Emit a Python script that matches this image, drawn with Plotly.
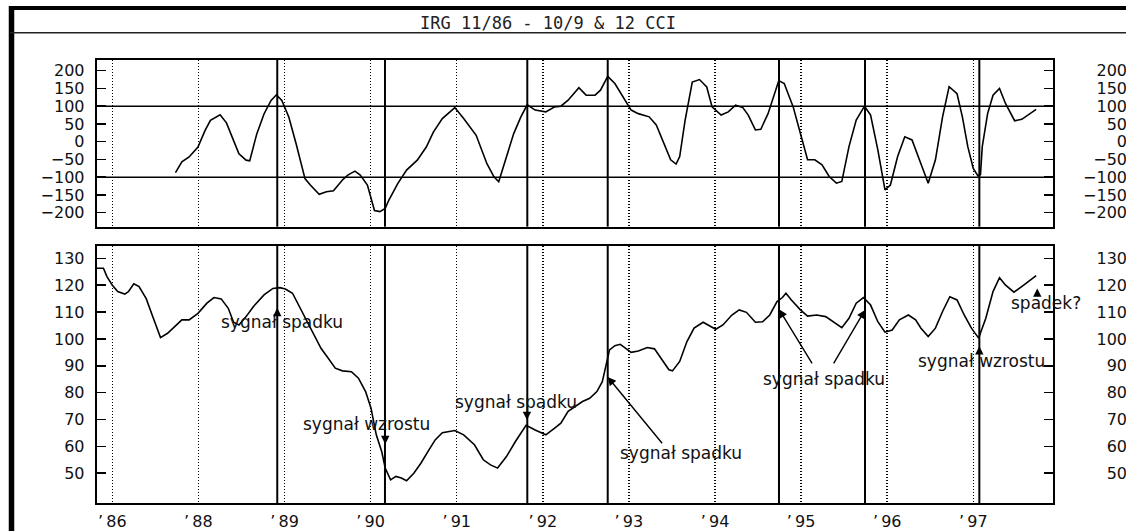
import plotly.graph_objects as go

# ---------------- data ----------------
title_text = "IRG 11/86 - 10/9 & 12 CCI"

tick_years = [1987, 1988, 1989, 1990, 1991, 1992, 1993, 1994, 1995, 1996, 1997]
tick_labels = ["\u2019\u200986", "\u2019\u200988", "\u2019\u200989", "\u2019\u200990", "\u2019\u200991",
               "\u2019\u200992", "\u2019\u200993", "\u2019\u200994", "\u2019\u200995", "\u2019\u200996",
               "\u2019\u200997"]

cci_ticks = [200, 150, 100, 50, 0, -50, -100, -150, -200]
cci_levels = [100, -100]
price_ticks = [130, 120, 110, 100, 90, 80, 70, 60, 50]

signal_years = [1988.916, 1990.167, 1991.82, 1992.754, 1994.743, 1995.742, 1997.07]

cci_x = [1987.734, 1987.808, 1987.892, 1987.995, 1988.078, 1988.140, 1988.252, 1988.326, 1988.409,
         1988.471, 1988.554, 1988.596, 1988.678, 1988.762, 1988.844, 1988.906, 1988.969, 1989.051,
         1989.135, 1989.238, 1989.300, 1989.403, 1989.487, 1989.569, 1989.673, 1989.735, 1989.818,
         1989.880, 1989.963, 1990.045, 1990.108, 1990.170, 1990.211, 1990.315, 1990.418, 1990.542,
         1990.647, 1990.729, 1990.833, 1990.978, 1991.081, 1991.226, 1991.351, 1991.433, 1991.488,
         1991.557, 1991.661, 1991.744, 1991.819, 1991.911, 1992.035, 1992.138, 1992.210, 1992.294,
         1992.419, 1992.503, 1992.607, 1992.670, 1992.754, 1992.837, 1992.942, 1993.026, 1993.109,
         1993.235, 1993.318, 1993.402, 1993.485, 1993.548, 1993.590, 1993.653, 1993.736, 1993.820,
         1993.904, 1993.966, 1994.071, 1994.154, 1994.239, 1994.323, 1994.386, 1994.469, 1994.532,
         1994.616, 1994.741, 1994.804, 1994.908, 1994.992, 1995.075, 1995.159, 1995.243, 1995.326,
         1995.410, 1995.473, 1995.556, 1995.640, 1995.736, 1995.807, 1995.891, 1995.974, 1996.037,
         1996.121, 1996.204, 1996.288, 1996.372, 1996.476, 1996.560, 1996.643, 1996.719, 1996.811,
         1996.873, 1996.936, 1996.999, 1997.053, 1997.083, 1997.104, 1997.166, 1997.229, 1997.304,
         1997.375, 1997.480, 1997.563, 1997.730]
cci_y = [-87, -57, -43, -15, 32, 60, 76, 53, 3,
         -34, -52, -54, 22, 78, 116, 132, 116, 69,
         -6, -104, -122, -148, -141, -138, -108, -94, -83,
         -94, -122, -194, -197, -188, -165, -118, -80, -52,
         -15, 27, 65, 96, 65, 18, -62, -99, -113,
         -57, 22, 69, 104, 89, 84, 98, 100, 117,
         152, 131, 131, 145, 184, 164, 121, 89, 79,
         70, 47, 0, -51, -63, -42, 61, 168, 175,
         154, 98, 75, 84, 103, 96, 75, 33, 35,
         79, 172, 164, 98, 23, -51, -51, -65, -98,
         -117, -112, -14, 61, 100, 75, -23, -136, -122,
         -42, 14, 5, -51, -117, -51, 70, 155, 135,
         70, -14, -75, -96, -93, -14, 79, 131, 150,
         107, 59, 63, 91]

price_x = [1986.822, 1986.897, 1986.938, 1987.001, 1987.063, 1987.145, 1987.187, 1987.250, 1987.311,
           1987.394, 1987.477, 1987.560, 1987.642, 1987.726, 1987.808, 1987.892, 1987.995, 1988.099,
           1988.181, 1988.265, 1988.347, 1988.409, 1988.471, 1988.554, 1988.638, 1988.762, 1988.865,
           1988.948, 1989.010, 1989.093, 1989.175, 1989.259, 1989.341, 1989.424, 1989.508, 1989.590,
           1989.673, 1989.777, 1989.859, 1989.942, 1990.005, 1990.066, 1990.129, 1990.170, 1990.232,
           1990.294, 1990.357, 1990.418, 1990.502, 1990.584, 1990.667, 1990.750, 1990.833, 1990.978,
           1991.081, 1991.206, 1991.309, 1991.393, 1991.475, 1991.578, 1991.682, 1991.806, 1991.911,
           1992.035, 1992.138, 1992.210, 1992.294, 1992.377, 1992.461, 1992.545, 1992.628, 1992.691,
           1992.733, 1992.775, 1992.837, 1992.900, 1992.963, 1993.026, 1993.109, 1993.214, 1993.297,
           1993.381, 1993.465, 1993.506, 1993.590, 1993.674, 1993.757, 1993.862, 1993.925, 1994.008,
           1994.092, 1994.196, 1994.281, 1994.365, 1994.469, 1994.553, 1994.636, 1994.720, 1994.783,
           1994.824, 1994.887, 1994.992, 1995.075, 1995.180, 1995.285, 1995.389, 1995.473, 1995.556,
           1995.640, 1995.724, 1995.807, 1995.891, 1995.974, 1996.058, 1996.141, 1996.246, 1996.330,
           1996.392, 1996.476, 1996.560, 1996.643, 1996.727, 1996.811, 1996.894, 1996.978, 1997.062,
           1997.145, 1997.229, 1997.304, 1997.375, 1997.472, 1997.585, 1997.730]
price_y = [126.3, 126.3, 123.2, 120.0, 117.6, 116.7, 117.6, 120.5, 119.5,
           115.0, 107.7, 100.5, 102.1, 104.6, 107.1, 107.1, 109.5, 113.3,
           115.4, 114.9, 111.4, 106.2, 105.2, 108.3, 112.0, 116.4, 118.8,
           119.1, 118.6, 117.0, 112.0, 106.4, 101.5, 96.5, 92.8, 89.1,
           88.1, 87.8, 85.4, 80.4, 74.2, 64.3, 58.1, 51.9, 47.5,
           48.8, 48.2, 47.2, 50.0, 53.7, 58.1, 62.4, 65.1, 65.9,
           64.3, 60.6, 55.0, 53.1, 51.9, 56.2, 61.8, 67.8, 66.1,
           64.3, 66.8, 68.6, 73.0, 74.8, 76.7, 77.9, 80.4, 84.1,
           90.3, 95.9, 97.5, 98.0, 96.5, 95.0, 95.5, 96.8, 96.3,
           92.2, 88.5, 88.1, 91.6, 99.0, 104.0, 106.2, 105.2, 103.6,
           105.2, 108.9, 110.8, 109.9, 106.2, 106.4, 108.9, 113.9, 115.4,
           117.0, 114.5, 110.8, 108.5, 108.9, 108.3, 106.2, 104.2, 107.7,
           113.3, 115.4, 112.6, 106.4, 102.5, 103.3, 107.1, 108.9, 107.1,
           104.0, 100.9, 104.0, 110.2, 115.7, 114.5, 108.9, 104.0, 100.3,
           107.7, 117.6, 122.8, 120.0, 117.4, 120.0, 123.6]

# text labels on the price panel: (text, x, y)
note_texts = ["sygna\u0142 spadku", "sygna\u0142 wzrostu", "sygna\u0142 spadku", "sygna\u0142 spadku",
              "sygna\u0142 spadku", "sygna\u0142 wzrostu", "spadek?"]
note_x = [1988.97, 1989.95, 1991.69, 1993.60, 1995.27, 1997.10, 1997.84]
note_y = [106.2, 68.2, 76.7, 57.5, 85.1, 91.6, 113.3]

# arrows: head (x, y) <- tail (x, y)
arrow_head_x = [1988.916, 1990.170, 1991.816, 1992.754, 1994.743, 1995.742, 1997.070, 1997.743]
arrow_head_y = [111.6, 60.8, 69.8, 85.8, 111.0, 110.8, 97.3, 118.8]
arrow_tail_x = [1988.916, 1990.170, 1991.816, 1993.400, 1995.138, 1995.368, 1997.070, 1997.743]
arrow_tail_y = [108.0, 64.5, 73.2, 60.6, 90.3, 90.3, 94.8, 115.3]

# ---------------- layout geometry ----------------
W, H = 1126, 531
x_range = [1986.819, 1997.922]
x_dom = [96.7 / W, 1052.7 / W]
top_dom = [1 - 226.7 / H, 1 - 60.0 / H]
bot_dom = [1 - 503.3 / H, 1 - 245.7 / H]
top_range = [-239.5, 230.1]
bot_range = [38.8, 134.7]

tick_font = dict(family="DejaVu Sans", size=16, color="#111111")
note_font = dict(family="DejaVu Sans", size=17, color="#111111")

fig = go.Figure()

fig.add_trace(go.Scatter(x=cci_x, y=cci_y, mode="lines", xaxis="x", yaxis="y",
                         line=dict(color="black", width=1.6), showlegend=False, hoverinfo="skip"))
fig.add_trace(go.Scatter(x=price_x, y=price_y, mode="lines", xaxis="x2", yaxis="y2",
                         line=dict(color="black", width=1.6), showlegend=False, hoverinfo="skip"))
# invisible traces so that the right-hand label axes are drawn
fig.add_trace(go.Scatter(x=[x_range[0]], y=[0], mode="markers", xaxis="x", yaxis="y3",
                         marker=dict(opacity=0), showlegend=False, hoverinfo="skip"))
fig.add_trace(go.Scatter(x=[x_range[0]], y=[100], mode="markers", xaxis="x2", yaxis="y4",
                         marker=dict(opacity=0), showlegend=False, hoverinfo="skip"))

xcommon = dict(range=x_range, domain=x_dom, tickmode="array", tickvals=tick_years,
               showgrid=True, gridcolor="black", gridwidth=1.5, griddash="1px,2px",
               zeroline=False, showline=True, linecolor="black", linewidth=2, mirror=True,
               ticks="", fixedrange=True)

fig.update_layout(
    width=W, height=H, autosize=False,
    margin=dict(l=0, r=0, t=0, b=0),
    paper_bgcolor="white", plot_bgcolor="white",
    xaxis=dict(**xcommon, anchor="y", showticklabels=False),
    xaxis2=dict(**xcommon, anchor="y2", ticktext=tick_labels, showticklabels=True,
                tickfont=tick_font, ticklabelstandoff=2),
    yaxis=dict(domain=top_dom, range=top_range, anchor="x", tickmode="array", tickvals=cci_ticks,
               ticks="inside", ticklen=9, tickwidth=1.5, tickcolor="black",
               showline=True, linecolor="black", linewidth=2, mirror="ticks",
               showgrid=False, zeroline=False, tickfont=tick_font, ticklabelstandoff=7),
    yaxis2=dict(domain=bot_dom, range=bot_range, anchor="x2", tickmode="array", tickvals=price_ticks,
                ticks="inside", ticklen=9, tickwidth=1.5, tickcolor="black",
                showline=True, linecolor="black", linewidth=2, mirror="ticks",
                showgrid=False, zeroline=False, tickfont=tick_font, ticklabelstandoff=7),
    yaxis3=dict(overlaying="y", anchor="free", position=1.0, side="right", range=top_range,
                ticklabelposition="inside", tickmode="array", tickvals=cci_ticks, ticks="",
                showline=False, showgrid=False, zeroline=False, tickfont=tick_font,
                ticklabelstandoff=-4),
    yaxis4=dict(overlaying="y2", anchor="free", position=1.0, side="right", range=bot_range,
                ticklabelposition="inside", tickmode="array", tickvals=price_ticks, ticks="",
                showline=False, showgrid=False, zeroline=False, tickfont=tick_font,
                ticklabelstandoff=-4),
)

shapes = []
# frame of the whole printout
shapes.append(dict(type="line", xref="paper", yref="paper", x0=9.5 / W, x1=1.0,
                   y0=1 - 8 / H, y1=1 - 8 / H, line=dict(color="black", width=4)))
shapes.append(dict(type="line", xref="paper", yref="paper", x0=11.5 / W, x1=11.5 / W,
                   y0=0, y1=1 - 6 / H, line=dict(color="black", width=5.5)))
shapes.append(dict(type="line", xref="paper", yref="paper", x0=10 / W, x1=1.0,
                   y0=1 - 32.7 / H, y1=1 - 32.7 / H, line=dict(color="#222222", width=1.5)))
# CCI levels
for lv in cci_levels:
    shapes.append(dict(type="line", xref="x domain", yref="y", x0=0, x1=1, y0=lv, y1=lv,
                       line=dict(color="black", width=1.5)))
# signal lines
for sx in signal_years:
    shapes.append(dict(type="line", xref="x", yref="y domain", x0=sx, x1=sx, y0=0, y1=1,
                       line=dict(color="black", width=2)))
    shapes.append(dict(type="line", xref="x2", yref="y2 domain", x0=sx, x1=sx, y0=0, y1=1,
                       line=dict(color="black", width=2)))
fig.update_layout(shapes=shapes)

annotations = [dict(text=title_text, xref="paper", yref="paper", x=548 / W, y=1 - 22.5 / H,
                    showarrow=False, xanchor="center", yanchor="middle",
                    font=dict(family="DejaVu Sans Mono", size=17, color="#222222"))]
for t, x, y in zip(note_texts, note_x, note_y):
    annotations.append(dict(text=t, x=x, y=y, xref="x2", yref="y2", showarrow=False,
                            xanchor="center", yanchor="middle", font=note_font))
for hx, hy, tx, ty in zip(arrow_head_x, arrow_head_y, arrow_tail_x, arrow_tail_y):
    annotations.append(dict(text="", x=hx, y=hy, xref="x2", yref="y2", ax=tx, ay=ty,
                            axref="x2", ayref="y2", showarrow=True, arrowhead=2, arrowsize=1.2,
                            arrowwidth=1.4, arrowcolor="black", standoff=0, startstandoff=0))
fig.update_layout(annotations=annotations)

fig.write_html("out.html", config={"staticPlot": True},
               post_script="document.body.style.margin='0';document.body.style.padding='0';"
                           "document.body.style.overflow='hidden';")
